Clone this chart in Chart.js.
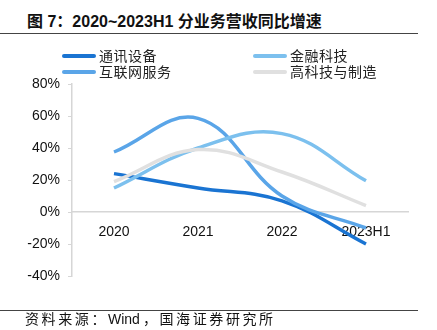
<!DOCTYPE html>
<html>
<head>
<meta charset="utf-8">
<script src="https://cdn.jsdelivr.net/npm/chart.js@4/dist/chart.umd.min.js"></script>
<style>
  body { margin: 0; width: 437px; height: 330px; background: #fff; position: relative; overflow: hidden;
         font-family: "Noto Sans CJK SC", sans-serif; }
  #titulo { position: absolute; left: 27px; top: 8px; font-size: 16px; font-weight: bold; color: #111; white-space: nowrap;
            font-family: "Liberation Sans", "Noto Sans CJK SC", sans-serif; }
  .raya { position: absolute; left: 0; width: 418px; height: 1px; background: #444; }
  #fuente { position: absolute; left: 25px; top: 308px; font-size: 14px; color: #111; letter-spacing: 2.6px; white-space: nowrap;
            font-family: "Liberation Sans", "Noto Sans CJK SC", sans-serif; }
  #fuente span { letter-spacing: 0; margin-right: 3px; }
  #leyenda { position: absolute; left: 0; top: 0; }
  .item { position: absolute; height: 18px; font-size: 14px; color: #222; white-space: nowrap; letter-spacing: 0.5px; }
  .item span.linea { position: absolute; left: 0; top: 7px; width: 34px; height: 4px; border-radius: 2px; }
  .item span.texto { position: absolute; left: 37px; top: -2px; }
  #caja { position: absolute; left: 0; top: 0; width: 437px; height: 330px; }
</style>
</head>
<body>
<div id="titulo">图 7：2020~2023H1 分业务营收同比增速</div>
<div class="raya" style="top:33px"></div>
<div id="caja"><canvas id="grafico"></canvas></div>
<div id="leyenda"></div>
<div class="raya" style="top:310px"></div>
<div id="fuente">资料来源：<span>Wind</span>，国海证券研究所</div>

<script>
// categorias y series (% interanual)
const periodos = ["2020", "2021", "2022", "2023H1"];
const nombresSeries = ["通讯设备", "金融科技", "互联网服务", "高科技与制造"];
const comunicaciones = [24, 15, 7, -20];
const fintech = [15, 40, 49, 19.5];
const internet = [37.5, 58.5, 10, -10];
const altaTecnologia = [19, 39, 25, 4];
const marcasY = [80, 60, 40, 20, 0, -20, -40];

const colores = ["#1a74d2", "#7cc0ee", "#5aa5e8", "#e0e0e0"];
const valores = [comunicaciones, fintech, internet, altaTecnologia];

// leyenda en dos columnas
const posLeyenda = [[62, 47], [253, 47], [62, 63], [253, 63]];
let html = "";
nombresSeries.forEach((nombre, i) => {
  html += `<div class="item" style="left:${posLeyenda[i][0]}px;top:${posLeyenda[i][1]}px">
    <span class="linea" style="background:${colores[i]}"></span><span class="texto">${nombre}</span></div>`;
});
document.getElementById("leyenda").innerHTML = html;

// orden de dibujo: gris al fondo
const ordenDibujo = [3, 1, 2, 0];
const datasets = ordenDibujo.map((i) => ({
  label: nombresSeries[i],
  data: valores[i],
  borderColor: colores[i],
  backgroundColor: colores[i],
  borderWidth: 3.5,
  pointRadius: 0,
  tension: 0.4,
  fill: false,
}));

new Chart(document.getElementById("grafico"), {
  type: "line",
  data: { labels: periodos, datasets: datasets },
  options: {
    responsive: true,
    maintainAspectRatio: false,
    animation: false,
    layout: { padding: { left: 0, top: 84, right: 29, bottom: 54 } },
    plugins: { legend: { display: false }, tooltip: { enabled: false } },
    scales: {
      x: {
        position: { y: 0 },
        offset: true,
        grid: { display: false },
        border: { display: true, color: "#d6d6d6", width: 1.5 },
        ticks: { color: "#111", font: { family: "Liberation Sans", size: 14 }, padding: 4, maxRotation: 0 },
      },
      y: {
        min: -40,
        max: 80,
        afterFit: (escala) => { escala.width = 72; },
        afterBuildTicks: (escala) => { escala.ticks = marcasY.map((v) => ({ value: v })); },
        grid: { drawOnChartArea: false, drawTicks: true, tickLength: 4, color: "#d6d6d6" },
        border: { display: true, color: "#d6d6d6", width: 1.5 },
        ticks: {
          color: "#111",
          padding: 8,
          font: { family: "Liberation Sans", size: 14 },
          callback: (v) => v + "%",
        },
      },
    },
  },
});
</script>
</body>
</html>
